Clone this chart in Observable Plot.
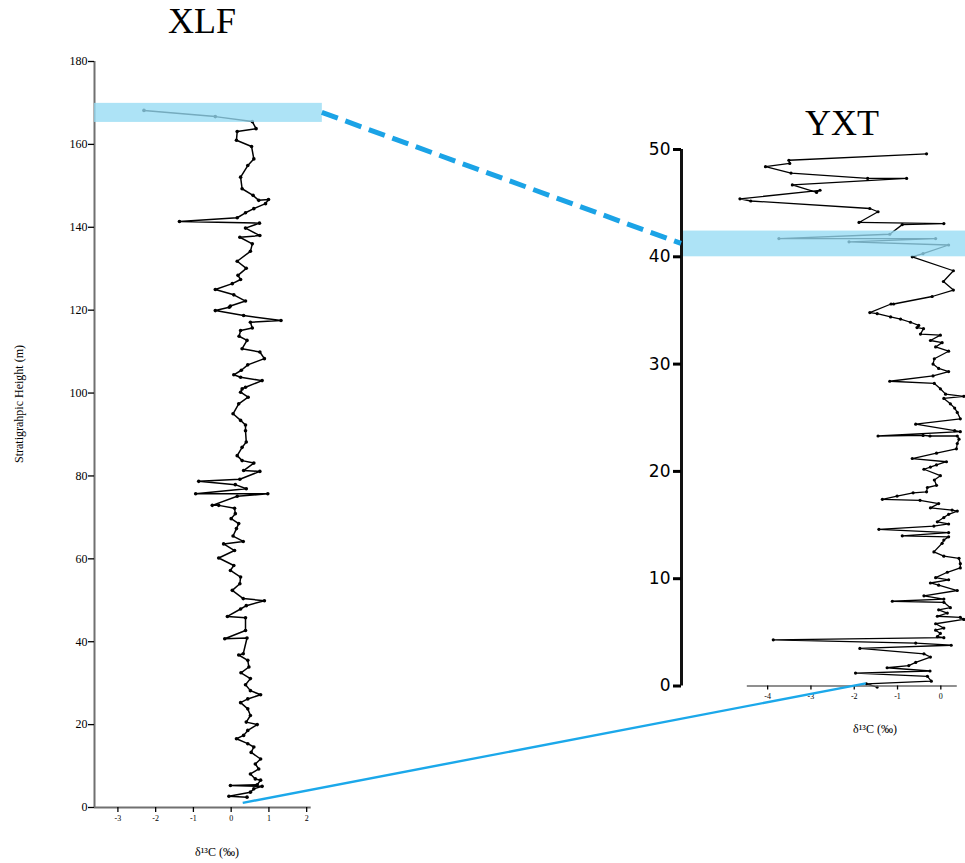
<!DOCTYPE html>
<html><head><meta charset="utf-8">
<script src="https://cdn.jsdelivr.net/npm/d3@7"></script>
<script src="https://cdn.jsdelivr.net/npm/@observablehq/plot@0.6"></script>
<style>
body{margin:0;background:#fff;}
#wrap{position:relative;width:965px;height:863px;overflow:hidden;font-family:"Liberation Serif",serif;color:#000;}
#wrap > svg{position:absolute;left:0;top:0;}
.lbl{position:absolute;white-space:nowrap;line-height:1;}
</style></head><body><div id="wrap"></div>
<script>
// ---- XLF section (height m, δ13C ‰), read top-down ----
const xlfHeight = [168.2,166.7,165.5,163.8,163.1,161.0,159.5,156.5,154.9,152.1,149.3,147.7,146.5,146.7,145.7,144.5,143.5,142.3,141.4,141.0,139.8,138.0,137.6,136.0,134.2,131.8,130.1,128.4,127.4,126.4,125.0,123.7,122.2,121.0,120.7,119.9,118.7,117.5,117.1,115.7,115.1,113.7,112.7,110.7,109.9,108.3,106.8,105.5,104.4,103.8,103.0,101.4,101.0,100.2,99.0,97.4,95.0,93.4,92.3,90.9,88.2,86.9,84.9,83.7,83.1,81.3,81.1,79.2,78.7,77.9,76.9,75.7,75.7,75.1,72.9,72.9,72.2,70.9,69.7,68.5,67.3,65.5,64.2,63.6,62.0,60.2,58.4,57.2,55.6,54.0,52.4,50.4,49.9,48.7,47.9,46.1,45.8,42.7,40.7,40.9,37.1,36.8,35.5,33.9,32.5,31.1,29.6,28.2,27.2,26.2,25.3,23.8,22.2,20.6,20.0,18.6,17.4,16.6,15.4,14.6,13.3,11.7,10.5,9.3,8.1,6.9,6.6,5.5,5.3,5.1,4.5,3.7,2.7,2.5];
const xlfD13C   = [-2.31,-0.42,0.56,0.66,0.16,0.14,0.54,0.60,0.44,0.25,0.29,0.58,0.73,0.99,0.91,0.60,0.38,0.16,-1.37,0.75,0.38,0.76,0.23,0.56,0.51,0.16,0.40,0.18,0.25,0.03,-0.42,0.07,0.38,-0.02,-0.05,-0.42,0.33,1.32,0.51,0.56,0.25,0.21,0.42,0.29,0.76,0.88,0.44,0.27,0.07,0.25,0.82,0.38,0.29,0.25,0.45,0.20,0.05,0.25,0.38,0.38,0.40,0.29,0.16,0.29,0.60,0.33,0.76,0.23,-0.86,0.11,0.40,-0.94,0.97,0.16,-0.50,-0.33,0.09,0.11,0.00,0.20,0.14,0.05,0.32,-0.20,0.09,-0.33,0.07,-0.02,0.25,0.23,0.03,0.32,0.88,0.40,0.25,-0.10,0.38,0.38,-0.17,0.42,0.32,0.20,0.44,0.47,0.26,0.51,0.38,0.51,0.78,0.44,0.25,0.44,0.51,0.40,0.69,0.44,0.33,0.14,0.44,0.60,0.53,0.78,0.64,0.73,0.51,0.64,0.78,0.69,-0.02,0.82,0.60,0.51,-0.06,0.42];
const xlfYTicks = [0,20,40,60,80,100,120,140,160,180];
const xlfXTicks = [-3,-2,-1,0,1,2];
const xlfBand = [{y1:165.3, y2:169.9}];

// ---- YXT section ----
const yxtHeight = [49.6,49.0,48.7,48.4,47.8,47.3,47.3,46.7,46.0,46.2,45.4,45.2,44.5,44.2,43.2,43.1,43.0,42.1,41.7,41.7,41.4,41.1,40.3,40.0,38.7,37.7,36.9,36.3,35.6,35.6,34.8,34.7,34.4,34.2,33.9,33.6,33.4,33.3,32.8,32.7,32.2,32.0,31.6,31.2,30.5,30.0,29.6,29.3,28.9,28.4,28.2,27.7,27.2,27.0,26.8,26.3,25.9,25.5,24.9,24.4,23.8,23.7,23.3,23.35,23.3,23.3,23.0,22.6,22.1,21.7,21.2,20.9,20.6,20.4,20.2,19.6,19.2,18.7,18.5,18.1,18.0,17.7,17.4,17.3,17.0,16.6,16.4,16.3,16.0,15.7,15.3,15.1,14.9,14.6,14.3,14.0,13.9,13.6,13.3,12.5,12.1,11.9,11.4,11.0,10.6,10.1,9.9,9.6,9.4,8.9,8.4,8.1,7.9,7.8,7.3,7.1,6.8,6.5,6.4,6.2,5.8,5.4,5.2,4.9,4.6,4.5,4.3,4.0,3.8,3.5,3.0,2.7,2.2,1.9,1.7,1.4,1.2,0.9,0.45,0.2,-0.1];
const yxtD13C   = [-0.33,-3.51,-3.49,-4.05,-3.46,-1.69,-0.79,-3.43,-2.87,-2.79,-4.64,-4.39,-1.64,-1.45,-1.89,0.07,-0.89,-1.18,-3.74,-0.12,-2.12,0.18,-0.41,-0.66,0.29,0.06,0.29,-0.20,-1.09,-1.15,-1.64,-1.47,-1.16,-0.93,-0.70,-0.51,-0.55,-0.40,-0.47,-0.01,-0.24,0.03,-0.12,0.18,-0.15,-0.18,-0.05,0.18,-0.18,-1.18,-0.15,-0.01,0.11,0.53,0.07,0.22,0.32,0.38,0.45,-0.58,0.32,0.45,-1.45,-0.41,-0.25,0.38,0.42,0.38,0.36,-0.10,-0.66,0.13,-0.10,-0.24,-0.39,-0.01,-0.15,-0.10,-0.31,-0.33,-0.64,-1.01,-1.35,-0.48,-0.05,-0.24,0.26,0.38,0.18,0.07,-0.08,0.18,-0.16,-1.43,0.18,-0.89,0.18,0.07,0.03,-0.16,0.07,0.42,0.45,0.45,0.15,-0.12,0.18,-0.24,-0.05,0.38,-0.39,0.07,-1.12,0.07,0.22,-0.05,0.15,-0.08,0.45,0.53,-0.12,0.07,-0.12,-0.01,-0.08,0.07,-3.87,-0.58,0.24,-1.87,-0.39,-0.24,-0.58,-0.74,-1.24,-0.25,-1.97,-0.31,-0.22,-1.72,-1.47];
const yxtYTicks = [0,10,20,30,40,50];
const yxtXTicks = [-4,-3,-2,-1,0];
const yxtBand = [{y1:40.0, y2:42.4}];

// ---- correlation tie lines: [XLF x, XLF y] -> [YXT x, YXT y] ----
const tieTopFrom = [2.415, 167.6], tieTopTo = [-5.99, 41.2];
const tieBaseFrom = [0.32, 1.0],  tieBaseTo = [-1.72, 0.2];

const W = 965, H = 863;
const xlfRows = xlfHeight.map((h,i)=>({h, v:xlfD13C[i]}));
const yxtRows = yxtHeight.map((h,i)=>({h, v:yxtD13C[i]}));
const bandFill = "rgb(150,219,243)";
const serif = "Liberation Serif";
const fmt = d => String(d);

const xlfX = [-3.62, 2.12];
const xlf = Plot.plot({
  width: W, height: H,
  marginLeft: 94, marginRight: W - 310.7, marginTop: 61, marginBottom: 56,
  x: {domain: xlfX},
  y: {domain: [0, 180]},
  style: {fontFamily: serif, background: "transparent", overflow: "visible", color: "#000"},
  marks: [
    Plot.ruleX([xlfX[0]], {y1: 0, y2: 180, stroke: "#707070", strokeWidth: 2}),
    Plot.ruleY([0], {x1: xlfX[0], x2: xlfX[1], stroke: "#707070", strokeWidth: 2}),
    Plot.axisY({ticks: xlfYTicks, tickFormat: fmt, tickSize: 6, tickPadding: 1, fontSize: 12, fontFamily: serif, strokeWidth: 1.3, label: null}),
    Plot.axisX({ticks: xlfXTicks, tickFormat: fmt, tickSize: 5, tickPadding: 3, fontSize: 8, fontFamily: serif, strokeWidth: 1.3, label: null}),
    Plot.line(xlfRows, {x: "v", y: "h", stroke: "#000", strokeWidth: 1.5}),
    Plot.dot(xlfRows, {x: "v", y: "h", r: 1.8, fill: "#000", stroke: "none"}),
    Plot.rect(xlfBand, {x1: xlfX[0], x2: 2.415, y1: "y1", y2: "y2", fill: bandFill, fillOpacity: 0.78})
  ]
});

const yxtX = [-5.99, 0.57];
const yxt = Plot.plot({
  width: W, height: H,
  marginLeft: 681, marginRight: 0, marginTop: 149, marginBottom: H - 685.5,
  x: {domain: yxtX},
  y: {domain: [0, 50]},
  style: {fontFamily: serif, background: "transparent", overflow: "hidden", color: "#000"},
  marks: [
    Plot.line(yxtRows, {x: "v", y: "h", stroke: "#000", strokeWidth: 1.3}),
    Plot.dot(yxtRows, {x: "v", y: "h", r: 1.6, fill: "#000", stroke: "none"}),
    Plot.rect(yxtBand, {x1: yxtX[0], x2: yxtX[1], y1: "y1", y2: "y2", fill: bandFill, fillOpacity: 0.78}),
    Plot.ruleY([0], {x1: -4.47, x2: 0.38, stroke: "#6a6a6a", strokeWidth: 1.3}),
    Plot.ruleX([yxtX[0]], {y1: 0, y2: 50, stroke: "#111", strokeWidth: 3}),
    Plot.axisY({ticks: yxtYTicks, tickFormat: fmt, tickSize: 8, tickPadding: 3, strokeWidth: 3, fontSize: 17, fontFamily: "DejaVu Sans", label: null}),
    Plot.axisX({ticks: yxtXTicks, tickFormat: fmt, tickSize: 4, tickPadding: 3, fontSize: 8, fontFamily: serif, strokeWidth: 1.3, label: null})
  ]
});

const wrap = document.getElementById("wrap");
wrap.appendChild(xlf);
wrap.appendChild(yxt);

// overlay of tie lines, positioned through both plots' scales
const sx1 = xlf.scale("x"), sy1 = xlf.scale("y"), sx2 = yxt.scale("x"), sy2 = yxt.scale("y");
const ov = d3.create("svg").attr("width", W).attr("height", H);
ov.append("line")
  .attr("x1", sx1.apply(tieTopFrom[0])).attr("y1", sy1.apply(tieTopFrom[1]))
  .attr("x2", sx2.apply(tieTopTo[0])).attr("y2", sy2.apply(tieTopTo[1]))
  .attr("stroke", "#1ba3e6").attr("stroke-width", 5).attr("stroke-dasharray", "17,8");
ov.append("line")
  .attr("x1", sx1.apply(tieBaseFrom[0])).attr("y1", sy1.apply(tieBaseFrom[1]))
  .attr("x2", sx2.apply(tieBaseTo[0])).attr("y2", sy2.apply(tieBaseTo[1]))
  .attr("stroke", "#1ba8ea").attr("stroke-width", 2.4);
wrap.appendChild(ov.node());

function label(text, x, y, size, extra) {
  const d = document.createElement("div");
  d.className = "lbl";
  d.textContent = text;
  d.style.left = x + "px"; d.style.top = y + "px"; d.style.fontSize = size + "px";
  d.style.transform = "translate(-50%,-50%)" + (extra || "");
  wrap.appendChild(d);
}
label("XLF", 202, 21, 36);
label("YXT", 842, 123, 36);
label("Stratigrahpic Height (m)", 19, 404, 12, " rotate(-90deg)");
label("δ¹³C (‰)", 217, 852, 12);
label("δ¹³C (‰)", 875, 729, 12);
</script></body></html>
